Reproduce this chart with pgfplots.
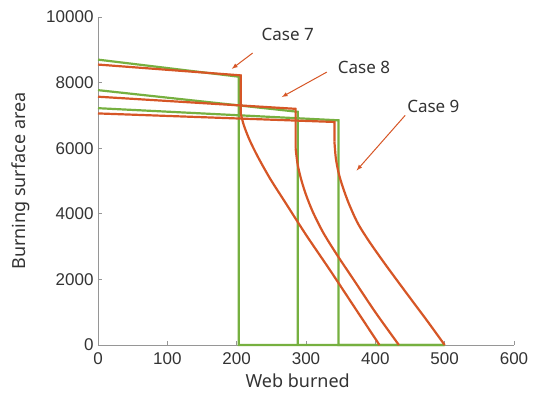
\documentclass[border=0pt]{standalone}
\usepackage{pgfplots}
\pgfplotsset{compat=1.18}
\usepackage{fontspec}
\setmainfont{Liberation Sans}
\newfontfamily\labfont{Noto Sans}
\definecolor{cgreen}{RGB}{118,176,64}
\definecolor{cred}{RGB}{214,86,38}
\definecolor{axgray}{RGB}{150,150,150}
\begin{document}
\begin{tikzpicture}
\begin{axis}[
  scale only axis,
  width=416pt, height=328pt,
  xmin=0, xmax=600, ymin=0, ymax=10000,
  xtick={0,100,...,600}, ytick={0,2000,...,10000},
  axis x line*=bottom, axis y line*=left,
  axis line style={axgray, line width=0.8pt},
  tick style={axgray, line width=0.8pt},
  tick align=inside, major tick length=4pt,
  /pgf/number format/assume math mode=true,
  /pgf/number format/fixed,
  /pgf/number format/1000 sep={},
  scaled y ticks=false,
  ticklabel style={font=\fontsize{17}{17}\selectfont, text=black!80},
  xticklabel style={yshift=-4pt},
  yticklabel style={xshift=-1pt},
  xlabel={Web burned}, ylabel={Burning surface area},
  label style={font=\labfont\fontsize{18}{18}\selectfont, text=black!80},
  xlabel style={at={(axis description cs:0.48,-0.11)}, anchor=center},
  ylabel style={at={(axis description cs:-0.185,0.5)}, anchor=center},
  clip=false,
]
% green series
\addplot[cgreen, line width=2.2pt, line join=miter] coordinates {(0,8700) (203,8180) (203,0) (500,0)};
\addplot[cgreen, line width=2.2pt, line join=miter] coordinates {(0,7770) (288,7110) (288,0)};
\addplot[cgreen, line width=2.2pt, line join=miter] coordinates {(0,7220) (347,6850) (347,0) (500,0)};
% red series: straight part, then curved part
\addplot[cred, line width=2.2pt, line join=miter] coordinates {(0,8550) (206,8220) (206,7050)};
\addplot[cred, line width=2.2pt, smooth, tension=0.5] coordinates {
(206,7050) (210,6720) (218,6280) (230,5760) (248,5080) (270,4350) (300,3360) (335,2270) (370,1150) (406,0)};
\addplot[cred, line width=2.2pt, line join=miter] coordinates {(0,7570) (285,7200) (285,6000)};
\addplot[cred, line width=2.2pt, smooth, tension=0.5] coordinates {
(285,6000) (288,5500) (293,5050) (300,4580) (310,4050) (325,3420) (345,2740) (370,1950) (400,1000) (434,0)};
\addplot[cred, line width=2.2pt, line join=miter] coordinates {(0,7060) (341,6800) (341,6200)};
\addplot[cred, line width=2.2pt, smooth, tension=0.5] coordinates {
(341,6200) (343,5700) (347,5250) (353,4820) (362,4300) (375,3700) (392,3130) (415,2440) (445,1580) (475,730) (500,0)};
% annotations
\node[font=\labfont\fontsize{17}{17}\selectfont, text=black!80, anchor=west] at (axis cs:231,9470) {Case 7};
\node[font=\labfont\fontsize{17}{17}\selectfont, text=black!80, anchor=west] at (axis cs:341,8450) {Case 8};
\node[font=\labfont\fontsize{17}{17}\selectfont, text=black!80, anchor=west] at (axis cs:441,7260) {Case 9};
\draw[cred, line width=1pt, -latex] (axis cs:223,8900) -- (axis cs:193,8420);
\draw[cred, line width=1pt, -latex] (axis cs:330,8320) -- (axis cs:265,7560);
\draw[cred, line width=1pt, -latex] (axis cs:443,7000) -- (axis cs:373,5320);
\end{axis}
\pgfresetboundingbox
\useasboundingbox (-98pt,-59pt) rectangle (442pt,345pt);
\end{tikzpicture}
\end{document}
